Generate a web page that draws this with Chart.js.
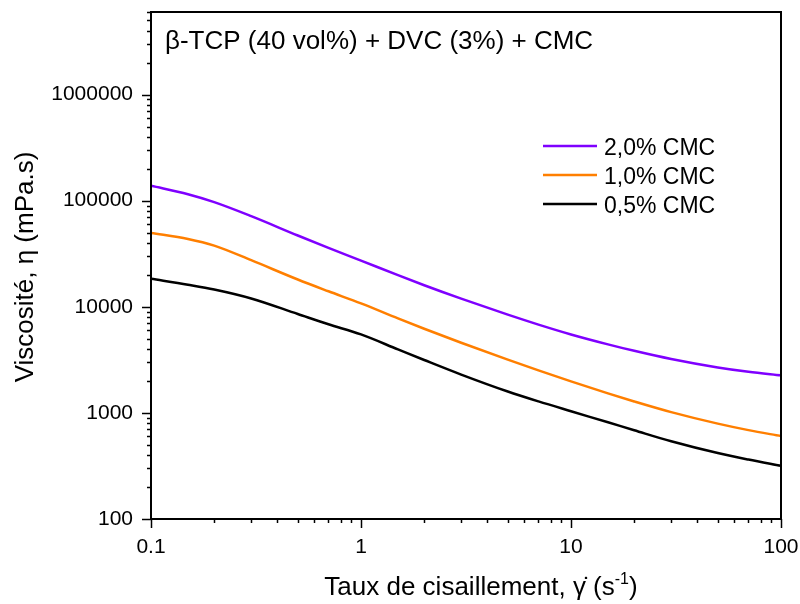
<!DOCTYPE html>
<html>
<head>
<meta charset="utf-8">
<script src="https://cdn.jsdelivr.net/npm/chart.js@4.4.1/dist/chart.umd.min.js"></script>
<style>
    body { margin: 0; background: #fff; }
    canvas { display: block; }
</style>
</head>
<body>
<canvas id="viscosityChart" width="800" height="604"></canvas>
<script>
// Data
const shearRate = [0.1, 0.15, 0.2, 0.3, 0.5, 0.7, 1, 1.5, 2, 3, 5, 7, 10, 15, 20, 30, 50, 70, 100];
const cmc20 = [138000, 115000, 96800, 71400, 46960, 35880, 27260, 19870, 15970, 11930, 8430, 6796, 5488, 4426, 3844, 3216, 2676, 2436, 2260];
const cmc10 = [49600, 43550, 37700, 27480, 18080, 14000, 10750, 7775, 6212, 4583, 3172, 2515, 1981, 1528, 1282, 1017, 792, 688, 605];
const cmc05 = [18380, 16140, 14550, 11980, 8550, 6846, 5490, 3968, 3153, 2298, 1591, 1283, 1036, 815, 686, 540, 418, 363, 317];

const seriesLabels = ["2,0% CMC", "1,0% CMC", "0,5% CMC"];
const seriesColors = ["#7f00ff", "#ff7f00", "#000000"];
const xTickLabels = ["0.1", "1", "10", "100"];
const yTickLabels = ["100", "1000", "10000", "100000", "1000000"];

const FONT = "'Liberation Sans', Arial, sans-serif";

const toPoints = (values) => values.map((v, i) => ({ x: shearRate[i], y: v }));

// 1, 2, ... 9 x 10^n marks between min and max
function logMarks(min, max) {
    const marks = [];
    for (let e = Math.floor(Math.log10(min)); e <= Math.ceil(Math.log10(max)); e++) {
        for (let m = 1; m <= 9; m++) {
            const v = m * Math.pow(10, e);
            if (v >= min * 0.999 && v <= max * 1.001) marks.push({ v, major: m === 1 });
        }
    }
    return marks;
}

function majorLabel(list) {
    return function (value) {
        const e = Math.log10(value);
        if (Math.abs(e - Math.round(e)) > 1e-6) return "";
        const idx = list.findIndex(t => Math.abs(Number(t) - value) < value * 1e-6);
        return idx >= 0 ? list[idx] : "";
    };
}

// keep the plot box fixed, no extra room for overhanging labels
function fixBox(size, key) {
    return (scale) => {
        scale[key] = size;
        scale.paddingLeft = 0;
        scale.paddingRight = 0;
        scale.paddingTop = 0;
        scale.paddingBottom = 0;
    };
}

// Frame + tick marks
const frameTicks = {
    id: "frameTicks",
    afterDraw(chart) {
        const { ctx, chartArea: a, scales: { x, y } } = chart;
        ctx.save();
        ctx.strokeStyle = "#000";
        ctx.lineWidth = 1.5;
        logMarks(x.min, x.max).forEach(m => {
            const px = Math.round(x.getPixelForValue(m.v)) + 0.5;
            ctx.beginPath();
            ctx.moveTo(px, a.bottom);
            ctx.lineTo(px, a.bottom + (m.major ? 9 : 4));
            ctx.stroke();
        });
        logMarks(y.min, y.max).forEach(m => {
            const py = Math.round(y.getPixelForValue(m.v)) + 0.5;
            ctx.beginPath();
            ctx.moveTo(a.left, py);
            ctx.lineTo(a.left - (m.major ? 9 : 4), py);
            ctx.stroke();
        });
        ctx.lineWidth = 2;
        ctx.strokeRect(a.left, a.top, a.right - a.left, a.bottom - a.top);
        ctx.restore();
    }
};

// Titles, annotation and legend
const textLayer = {
    id: "textLayer",
    afterDraw(chart) {
        const { ctx, chartArea: a } = chart;
        ctx.save();
        ctx.fillStyle = "#000";
        ctx.textBaseline = "alphabetic";

        // annotation
        ctx.font = "26px " + FONT;
        ctx.textAlign = "left";
        ctx.fillText("\u03b2-TCP (40 vol%) + DVC (3%) + CMC", a.left + 14, 49);

        // legend
        ctx.font = "23px " + FONT;
        chart.data.datasets.forEach((ds, i) => {
            const ly = 146 + i * 29;
            ctx.strokeStyle = ds.borderColor;
            ctx.lineWidth = 2.5;
            ctx.beginPath();
            ctx.moveTo(543, ly);
            ctx.lineTo(597, ly);
            ctx.stroke();
            ctx.fillText(ds.label, 604, ly + 9);
        });

        // y title
        ctx.font = "26px " + FONT;
        ctx.save();
        ctx.translate(33, 267);
        ctx.rotate(-Math.PI / 2);
        ctx.textAlign = "center";
        ctx.fillText("Viscosit\u00e9, \u03b7 (mPa.s)", 0, 0);
        ctx.restore();

        // x title with superscript
        const main = "Taux de cisaillement, \u03b3\u0307 (s";
        const sup = "-1";
        const close = ")";
        ctx.font = "26px " + FONT;
        const wMain = ctx.measureText(main).width;
        const wClose = ctx.measureText(close).width;
        ctx.font = "16px " + FONT;
        const wSup = ctx.measureText(sup).width;
        let tx = 481 - (wMain + wSup + wClose) / 2;
        const base = 595;
        ctx.font = "26px " + FONT;
        ctx.fillText(main, tx, base);
        tx += wMain;
        ctx.font = "16px " + FONT;
        ctx.fillText(sup, tx, base - 11);
        tx += wSup;
        ctx.font = "26px " + FONT;
        ctx.fillText(close, tx, base);
        ctx.restore();
    }
};

// Viscosity Chart
const viscCtx = document.getElementById("viscosityChart");

new Chart(viscCtx, {
    type: "line",
    data: {
        datasets: [
            { label: seriesLabels[0], data: toPoints(cmc20), borderColor: seriesColors[0] },
            { label: seriesLabels[1], data: toPoints(cmc10), borderColor: seriesColors[1] },
            { label: seriesLabels[2], data: toPoints(cmc05), borderColor: seriesColors[2] }
        ]
    },
    options: {
        responsive: false,
        animation: false,
        devicePixelRatio: 1,
        layout: { padding: { left: 0, right: 19, top: 12, bottom: 0 } },
        elements: {
            line: { borderWidth: 2.5, cubicInterpolationMode: "monotone", fill: false },
            point: { radius: 0, hoverRadius: 0 }
        },
        plugins: {
            legend: { display: false },
            tooltip: { enabled: false }
        },
        scales: {
            x: {
                type: "logarithmic",
                min: 0.1,
                max: 100,
                grid: { display: false, drawTicks: false, tickLength: 0 },
                border: { display: false },
                ticks: {
                    autoSkip: false,
                    maxRotation: 0,
                    padding: 16,
                    color: "#000",
                    font: { family: FONT, size: 21 },
                    callback: majorLabel(xTickLabels)
                },
                afterFit: fixBox(85, "height")
            },
            y: {
                type: "logarithmic",
                min: 100,
                max: 6000000,
                grid: { display: false, drawTicks: false, tickLength: 0 },
                border: { display: false },
                ticks: {
                    autoSkip: false,
                    padding: 18,
                    color: "#000",
                    font: { family: FONT, size: 21 },
                    callback: majorLabel(yTickLabels)
                },
                afterFit: fixBox(151, "width")
            }
        }
    },
    plugins: [frameTicks, textLayer]
});
</script>
</body>
</html>
